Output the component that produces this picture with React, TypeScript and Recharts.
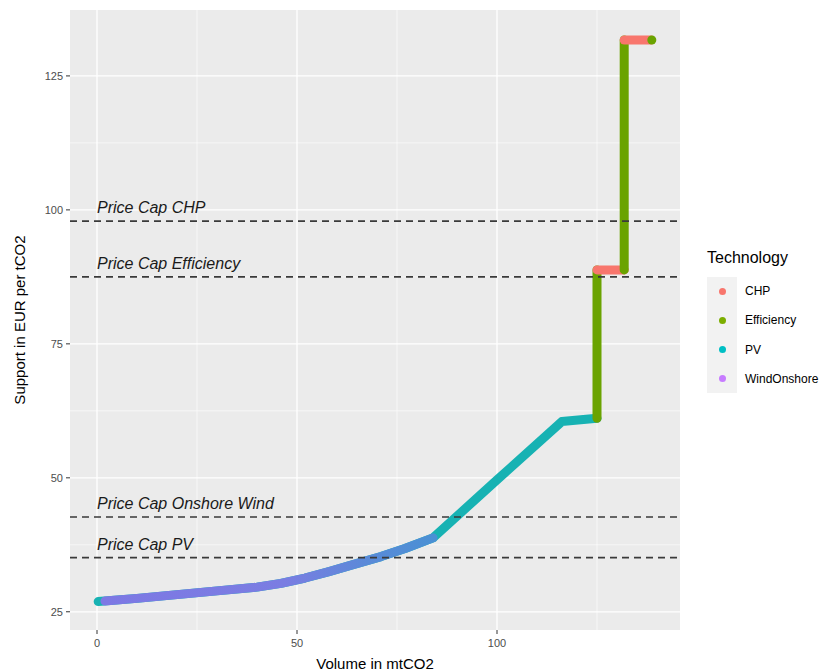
import React from 'react';
import { LineChart, Line, XAxis, YAxis, CartesianGrid, ReferenceLine, ReferenceDot } from 'recharts';

const FONT = '"Liberation Sans", Arial, Helvetica, sans-serif';

const technologies = ['CHP', 'Efficiency', 'PV', 'WindOnshore'];
const techColors = ['#F8766D', '#7CAE00', '#00BFC4', '#C77CFF'];

// merit order curve (volume mtCO2, support EUR/tCO2)
const windVolume = [2, 10, 20, 30, 40, 46, 52, 58, 64, 71, 77, 84];
const windSupport = [27.0, 27.5, 28.2, 28.9, 29.6, 30.3, 31.3, 32.5, 33.8, 35.3, 36.8, 38.8];
const pvVolume = [0.3, 10, 20, 30, 40, 46, 52, 58, 64, 71, 77, 84, 100, 116.2, 125];
const pvSupport = [26.9, 27.5, 28.2, 28.9, 29.6, 30.3, 31.3, 32.5, 33.8, 35.3, 36.8, 38.8, 49.6, 60.5, 61.1];
const effStep1Volume = [125, 125];
const effStep1Support = [61.1, 88.8];
const chpStep1Volume = [125, 131.8];
const chpStep1Support = [88.8, 88.8];
const effStep2Volume = [131.8, 131.8];
const effStep2Support = [88.8, 131.7];
const chpStep2Volume = [131.8, 138.5];
const chpStep2Support = [131.7, 131.7];
const effEndVolume = [138.7];
const effEndSupport = [131.7];

const capNames = ['Price Cap CHP', 'Price Cap Efficiency', 'Price Cap Onshore Wind', 'Price Cap PV'];
const capValues = [97.9, 87.5, 42.7, 35.1];

const xTicks = [0, 50, 100];
const xMinor = [25, 75, 125];
const yTicks = [25, 50, 75, 100, 125];
const yMinor = [37.5, 62.5, 87.5, 112.5];

const zip = (xs: number[], ys: number[]) => xs.map((x, i) => ({ x, y: ys[i] }));

const wind = zip(windVolume, windSupport);
const pv = zip(pvVolume, pvSupport);
const eff1 = zip(effStep1Volume, effStep1Support);
const chp1 = zip(chpStep1Volume, chpStep1Support);
const eff2 = zip(effStep2Volume, effStep2Support);
const chp2 = zip(chpStep2Volume, chpStep2Support);
const effEnd = zip(effEndVolume, effEndSupport);

const tickStyle = { fill: '#4D4D4D', fontSize: 11, fontFamily: FONT };
const LW = 9;
const PV_LINE = '#17B2B3';
const EFF_LINE = '#6AA300';

export default function App() {
  return (
    <div style={{ position: 'absolute', left: 0, top: 0, width: 839, height: 672, background: '#fff', fontFamily: FONT }}>
      <LineChart width={839} height={672} margin={{ top: 10, right: 159, bottom: 0, left: 0 }}>
        <defs>
          {/* wind + pv points overlap here, so the band reads as a purple-blue mix */}
          <linearGradient id="windMix" x1="0" y1="0" x2="1" y2="0">
            <stop offset="0%" stopColor="#7D78E4" />
            <stop offset="55%" stopColor="#7A7DE2" />
            <stop offset="80%" stopColor="#5A8AD8" />
            <stop offset="100%" stopColor="#4A90D4" />
          </linearGradient>
        </defs>
        <CartesianGrid fill="#EBEBEB" stroke="none" />
        <XAxis
          type="number"
          dataKey="x"
          domain={[-6.75, 145.75]}
          ticks={xTicks}
          allowDataOverflow
          axisLine={false}
          tickLine={{ stroke: '#333333' }}
          tickSize={4}
          tickMargin={5}
          tick={tickStyle}
          height={42}
          label={{ value: 'Volume in mtCO2', position: 'insideBottom', offset: 3, fill: '#000', fontSize: 15, fontFamily: FONT }}
        />
        <YAxis
          type="number"
          dataKey="y"
          domain={[21.6, 137.3]}
          ticks={yTicks}
          allowDataOverflow
          axisLine={false}
          tickLine={{ stroke: '#333333' }}
          tickSize={4}
          tickMargin={3}
          tick={tickStyle}
          width={70}
          label={{ value: 'Support in EUR per tCO2', angle: -90, position: 'center', dx: -15, fill: '#000', fontSize: 15, fontFamily: FONT }}
        />
        {xMinor.map((v) => (
          <ReferenceLine key={'xm' + v} x={v} stroke="#FFFFFF" strokeWidth={0.6} />
        ))}
        {yMinor.map((v) => (
          <ReferenceLine key={'ym' + v} y={v} stroke="#FFFFFF" strokeWidth={0.6} />
        ))}
        {xTicks.map((v) => (
          <ReferenceLine key={'xM' + v} x={v} stroke="#FFFFFF" strokeWidth={1.3} />
        ))}
        {yTicks.map((v) => (
          <ReferenceLine key={'yM' + v} y={v} stroke="#FFFFFF" strokeWidth={1.3} />
        ))}

        <Line data={pv} dataKey="y" name={technologies[2]} stroke={PV_LINE} strokeWidth={LW} strokeLinecap="round" strokeLinejoin="round" dot={false} isAnimationActive={false} type="linear" />
        <Line data={wind} dataKey="y" name={technologies[3]} stroke="url(#windMix)" strokeWidth={LW} strokeLinecap="round" strokeLinejoin="round" dot={false} isAnimationActive={false} type="linear" />
        <Line data={eff1} dataKey="y" name={technologies[1]} stroke={EFF_LINE} strokeWidth={LW} strokeLinecap="round" dot={false} isAnimationActive={false} type="linear" />
        <Line data={chp1} dataKey="y" name={technologies[0]} stroke={techColors[0]} strokeWidth={LW} strokeLinecap="round" dot={false} isAnimationActive={false} type="linear" />
        <Line data={eff2} dataKey="y" name={technologies[1]} stroke={EFF_LINE} strokeWidth={LW} strokeLinecap="round" dot={false} isAnimationActive={false} type="linear" />
        <Line data={chp2} dataKey="y" name={technologies[0]} stroke={techColors[0]} strokeWidth={LW} strokeLinecap="round" dot={false} isAnimationActive={false} type="linear" />
        <Line data={effEnd} dataKey="y" name={technologies[1]} stroke="none" dot={{ r: 4.5, fill: EFF_LINE, stroke: 'none' }} isAnimationActive={false} />

        {capValues.map((v, i) => (
          <ReferenceLine key={'cap' + i} y={v} stroke="#3A3A3A" strokeWidth={1.6} strokeDasharray="7 5" />
        ))}
        {capValues.map((v, i) => (
          <ReferenceDot
            key={'capl' + i}
            x={0}
            y={v}
            r={0}
            fill="none"
            stroke="none"
            label={(p: any) => (
              <text x={p.viewBox.x} y={p.viewBox.y - 8} fontSize={16} fontStyle="italic" fill="#1A1A1A" fontFamily={FONT}>
                {capNames[i]}
              </text>
            )}
          />
        ))}
      </LineChart>

      <div style={{ position: 'absolute', left: 707, top: 249, fontSize: 16, color: '#000' }}>Technology</div>
      <div style={{ position: 'absolute', left: 707, top: 277, width: 30, height: 116, background: '#F2F2F2' }} />
      {technologies.map((t, i) => (
        <div key={t} style={{ position: 'absolute', left: 707, top: 282 + i * 29.3, height: 18, display: 'flex', alignItems: 'center' }}>
          <div style={{ width: 30, display: 'flex', justifyContent: 'center' }}>
            <div style={{ width: 7, height: 7, borderRadius: '50%', background: techColors[i] }} />
          </div>
          <span style={{ marginLeft: 8, fontSize: 12, color: '#000' }}>{t}</span>
        </div>
      ))}
    </div>
  );
}
